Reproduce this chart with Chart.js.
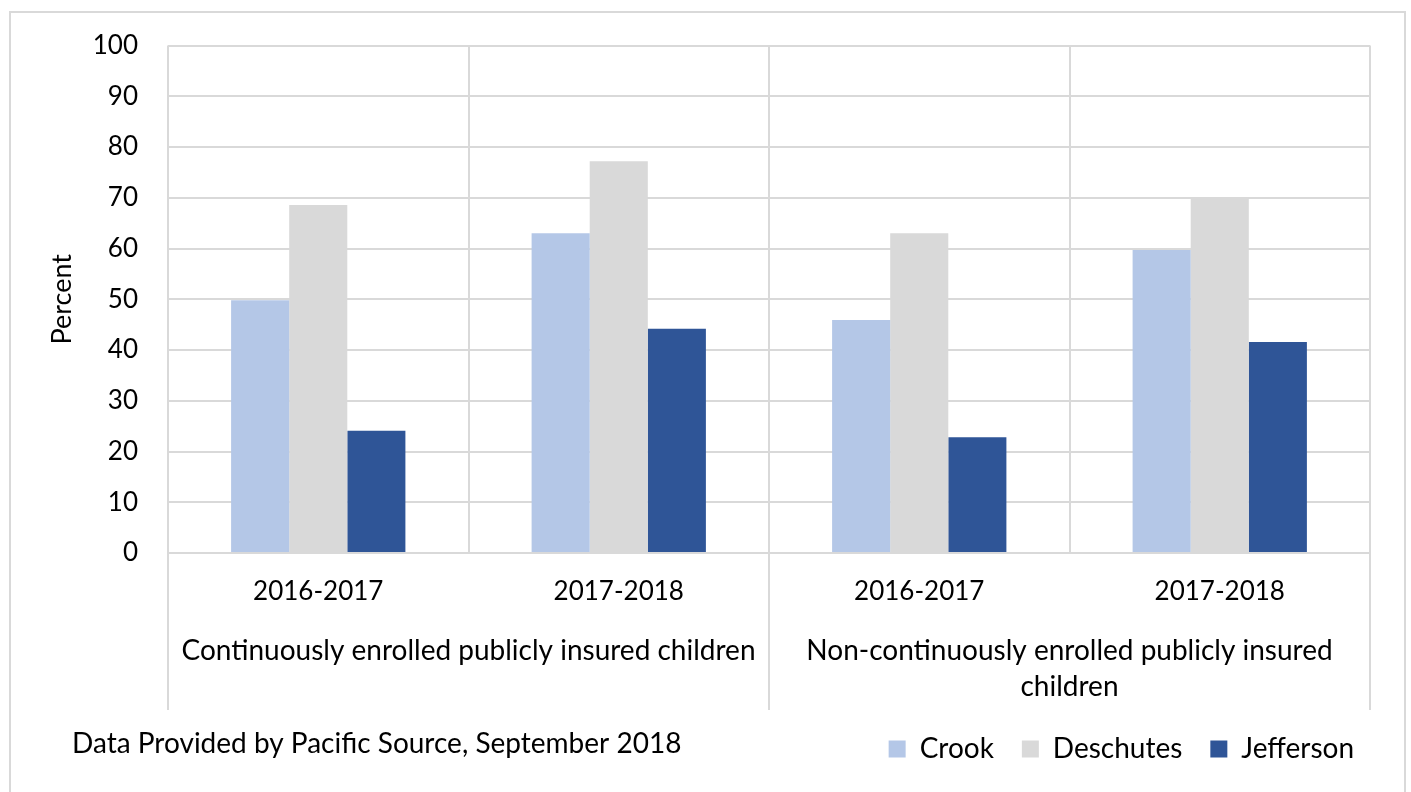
<!DOCTYPE html>
<html>
<head>
<meta charset="utf-8">
<script src="https://cdn.jsdelivr.net/npm/chart.js@4/dist/chart.umd.min.js"></script>
<style>
  html, body { margin: 0; padding: 0; background: #fff; }
  #wrap { width: 1411px; height: 792px; position: relative; }
</style>
</head>
<body>
<div id="wrap"><canvas id="dentalChart"></canvas></div>
<script>
// years shown under each bar group
const years = ["2016-2017", "2017-2018", "2016-2017", "2017-2018"];
// the two population groups, each spanning two years
const groups = [
    "Continuously enrolled publicly insured children",
    ["Non-continuously enrolled publicly insured", "children"]
];
const crook = [49.8, 63.0, 45.9, 59.7];
const deschutes = [68.6, 77.2, 63.0, 70.1];
const jefferson = [24.1, 44.2, 22.8, 41.6];
const yTicks = [0, 10, 20, 30, 40, 50, 60, 70, 80, 90, 100];
const sourceNote = "Data Provided by Pacific Source, September 2018";

const gridColor = "#d9d9d9";
const fontFamily = "Lato, 'Open Sans', sans-serif";

// outer frame, footnote and the long separators between the two groups
const decorPlugin = {
    id: "decor",
    afterLayout(chart) {
        // nudge the legend a bit further right, like the original
        chart.legend.left += 12;
        chart.legend.right += 12;
    },
    beforeDraw(chart) {
        const ctx = chart.ctx;
        ctx.save();
        ctx.fillStyle = "#fff";
        ctx.fillRect(0, 0, chart.width, chart.height);
        ctx.strokeStyle = gridColor;
        ctx.lineWidth = 2;
        ctx.strokeRect(10, 12, 1395, 820);
        ctx.restore();
    },
    afterDraw(chart) {
        const ctx = chart.ctx;
        const x = chart.scales.x;
        const bottom = chart.chartArea.bottom;
        const half = (x.getPixelForValue(1) - x.getPixelForValue(0)) / 2;
        const seps = [x.getPixelForValue(0) - half, x.getPixelForValue(1) + half, x.getPixelForValue(3) + half];
        ctx.save();
        ctx.strokeStyle = gridColor;
        ctx.lineWidth = 2;
        seps.forEach(px => {
            ctx.beginPath();
            ctx.moveTo(px, bottom);
            ctx.lineTo(px, 710);
            ctx.stroke();
        });
        ctx.fillStyle = "#000";
        ctx.font = "28px " + fontFamily;
        ctx.textAlign = "left";
        ctx.textBaseline = "middle";
        ctx.fillText(sourceNote, 72, 744);
        ctx.restore();
    }
};

const ctx = document.getElementById("dentalChart").getContext("2d");
new Chart(ctx, {
    type: "bar",
    data: {
        labels: years,
        datasets: [
            { label: "Crook", data: crook, backgroundColor: "#b4c7e7" },
            { label: "Deschutes", data: deschutes, backgroundColor: "#d9d9d9" },
            { label: "Jefferson", data: jefferson, backgroundColor: "#2f5597" }
        ]
    },
    options: {
        responsive: true,
        maintainAspectRatio: false,
        animation: false,
        datasets: {
            bar: { categoryPercentage: 0.58, barPercentage: 1.0, borderWidth: 0 }
        },
        layout: { padding: { top: 45, right: 41, left: 0, bottom: 19 } },
        plugins: {
            tooltip: { enabled: false },
            legend: {
                position: "bottom",
                align: "end",
                labels: {
                    boxWidth: 17,
                    boxHeight: 17,
                    padding: 28,
                    color: "#000",
                    font: { family: fontFamily, size: 28 }
                }
            }
        },
        scales: {
            x: {
                grid: { color: gridColor, lineWidth: 2, drawTicks: false },
                border: { color: gridColor, width: 2 },
                ticks: {
                    color: "#000",
                    padding: 23,
                    font: { family: fontFamily, size: 26, lineHeight: 1.2 }
                },
                afterFit: s => { s.height = 54; }
            },
            x2: {
                type: "category",
                position: "bottom",
                labels: groups,
                grid: { display: false, drawTicks: false },
                border: { display: false },
                ticks: {
                    color: "#000",
                    padding: 25,
                    maxRotation: 0,
                    autoSkip: false,
                    font: { family: fontFamily, size: 28, lineHeight: 1.32 }
                },
                afterFit: s => { s.height = 100; }
            },
            y: {
                min: 0,
                max: 100,
                grid: { color: gridColor, lineWidth: 2, drawTicks: false },
                border: { display: false },
                afterBuildTicks: s => { s.ticks = yTicks.map(v => ({ value: v })); },
                ticks: {
                    color: "#000",
                    padding: 30,
                    font: { family: fontFamily, size: 26 }
                },
                title: {
                    display: true,
                    text: "Percent",
                    color: "#000",
                    padding: { top: 46, bottom: 0 },
                    font: { family: fontFamily, size: 27, lineHeight: 1.2 }
                },
                afterFit: s => { s.width = 168; }
            }
        }
    },
    plugins: [decorPlugin]
});
</script>
</body>
</html>
